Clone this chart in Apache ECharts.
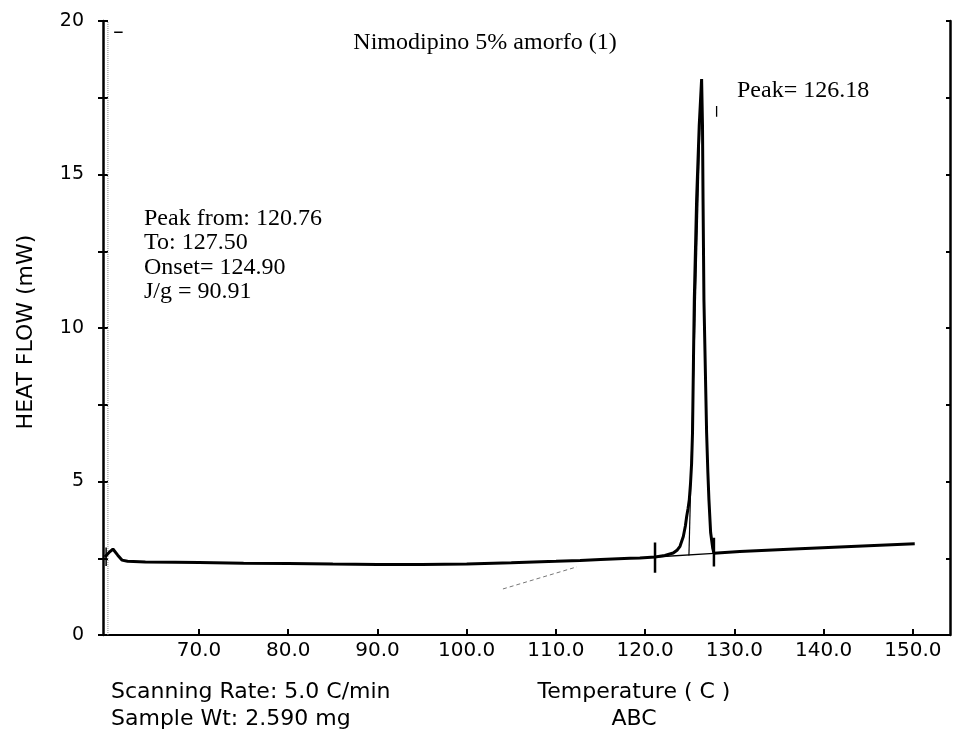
<!DOCTYPE html>
<html>
<head>
<meta charset="utf-8">
<title>Nimodipino 5% amorfo (1)</title>
<script src="https://cdn.jsdelivr.net/npm/echarts@6/dist/echarts.min.js"></script>
<style>
  html, body { margin: 0; padding: 0; background: #fff; }
  #dsc { width: 954px; height: 738px; }
</style>
</head>
<body>
<div id="dsc"></div>
<script>
// curva DSC: [temperatura, heat flow]
var curva = [
  [59.46, 2.54], [59.9, 2.68], [60.36, 2.80], [60.9, 2.60], [61.37, 2.44],
  [62.0, 2.40], [64.0, 2.38], [67.3, 2.37], [70, 2.36], [75, 2.34],
  [80, 2.33], [85, 2.31], [90, 2.30], [95, 2.30], [100, 2.31],
  [105, 2.35], [110, 2.40], [112.7, 2.43], [115, 2.46], [118.3, 2.50],
  [119.4, 2.51], [121.1, 2.54], [122.2, 2.59], [123.14, 2.67], [123.6, 2.77],
  [123.9, 2.89], [124.27, 3.21], [124.5, 3.55], [124.65, 3.87], [124.8, 4.12],
  [124.94, 4.41], [125.08, 4.95], [125.2, 5.60], [125.3, 6.59], [125.4, 8.78],
  [125.5, 10.92], [125.76, 14.18], [126.05, 16.58], [126.32, 18.11], [126.42, 16.58],
  [126.48, 14.18], [126.58, 10.92], [126.88, 6.59], [127.02, 5.3], [127.14, 4.41],
  [127.33, 3.34], [127.56, 2.84], [127.7, 2.66], [128.5, 2.68], [130.6, 2.72],
  [137.3, 2.81], [145, 2.91], [150.2, 2.97]
];
// linea base de integracion y tangente del onset
var lineaBase = [[121.1, 2.54], [127.7, 2.66]];
var tangente = [[124.9, 2.59], [126.25, 17.98]];
// marcas verticales de los limites del pico
var marcaDesde = [[121.1, 2.03], [121.1, 3.01]];
var marcaHasta = [[127.7, 2.23], [127.7, 3.17]];
var marcaInicio = [[59.6, 2.25], [59.6, 2.85]];
var marcaPico = [[128.0, 16.88], [128.0, 17.23]];
var marcaSup = [[60.5, 19.63], [61.45, 19.63]];
// trazos tenues del escaneo
var trazoTenue = [[104.06, 1.50], [112.35, 2.22]];
var punteadoIzq = [[59.8, 0], [59.8, 20]];

var ticksX = [70, 80, 90, 100, 110, 120, 130, 140, 150];
var ticksY = [0, 5, 10, 15, 20];

var chart = echarts.init(document.getElementById('dsc'));

var sans = '"DejaVu Sans", Verdana, sans-serif';
var serif = '"Liberation Serif", "Times New Roman", serif';

function seg(data, w, color, type) {
  return {
    type: 'line', data: data, showSymbol: false, silent: true,
    lineStyle: { color: color || '#000', width: w, type: type || 'solid' },
    xAxisIndex: 0, yAxisIndex: 0, z: 3
  };
}

function texto(t, x, y, font, size, align) {
  return {
    type: 'text', x: x, y: y,
    style: { text: t, fontFamily: font, fontSize: size, fill: '#000',
             align: align || 'left', verticalAlign: 'middle' }
  };
}

var ejeY = {
  type: 'value', min: 0, max: 20, interval: 2.5,
  splitLine: { show: false }
};

var option = {
  animation: false,
  backgroundColor: '#fff',
  grid: { left: 103, right: 4, top: 21, bottom: 103 },
  xAxis: [
    {
      type: 'value', min: 59.25, max: 154.15, position: 'bottom',
      splitLine: { show: false },
      axisLine: { lineStyle: { color: '#222', width: 1.5, type: [5, 2] } },
      axisTick: { customValues: ticksX, inside: true, length: 6,
                  lineStyle: { color: '#000', width: 2 } },
      axisLabel: { customValues: ticksX, margin: 6, color: '#000',
                   fontFamily: sans, fontSize: 20,
                   formatter: function (v) { return v.toFixed(1); } }
    },
    {
      type: 'value', min: 59.25, max: 154.15, position: 'top',
      splitLine: { show: false },
      axisLine: { lineStyle: { color: '#000', width: 2 } },
      axisTick: { show: false }, axisLabel: { show: false }
    }
  ],
  yAxis: [
    Object.assign({}, ejeY, {
      position: 'left',
      axisLine: { lineStyle: { color: '#000', width: 2.5 } },
      axisTick: { length: 5, lineStyle: { color: '#000', width: 2 } },
      axisLabel: { margin: 19, color: '#000', fontFamily: sans, fontSize: 19,
                   formatter: function (v) { return ticksY.indexOf(v) >= 0 ? String(v) : ''; } }
    }),
    Object.assign({}, ejeY, {
      position: 'left',
      axisLine: { show: false },
      axisTick: { inside: true, length: 5, lineStyle: { color: '#000', width: 2 } },
      axisLabel: { show: false }
    }),
    Object.assign({}, ejeY, {
      position: 'right',
      axisLine: { lineStyle: { color: '#000', width: 2.5 } },
      axisTick: { inside: true, length: 4, lineStyle: { color: '#000', width: 2 } },
      axisLabel: { show: false }
    })
  ],
  series: [
    seg(punteadoIzq, 1, '#888', 'dotted'),
    seg(trazoTenue, 1, '#777', [4, 3]),
    seg(lineaBase, 1.3),
    seg(tangente, 1.2),
    seg(curva, 3),
    seg(marcaDesde, 2.5),
    seg(marcaHasta, 2.5),
    seg(marcaInicio, 1.5),
    seg(marcaPico, 1.3),
    seg(marcaSup, 1.5)
  ],
  graphic: [
    texto('Nimodipino 5% amorfo (1)', 485, 43, serif, 24, 'center'),
    texto('Peak= 126.18', 737, 91, serif, 24),
    texto('Peak from: 120.76', 144, 219, serif, 24),
    texto('To: 127.50', 144, 243, serif, 24),
    texto('Onset= 124.90', 144, 268, serif, 24),
    texto('J/g = 90.91', 144, 292, serif, 24),
    texto('Scanning Rate: 5.0 C/min', 111, 692, sans, 22),
    texto('Sample Wt: 2.590 mg', 111, 719, sans, 22),
    texto('Temperature ( C )', 634, 692, sans, 22, 'center'),
    texto('ABC', 634, 719, sans, 22, 'center'),
    {
      type: 'text', x: 26, y: 332, rotation: Math.PI / 2,
      style: { text: 'HEAT FLOW (mW)', fontFamily: sans, fontSize: 22, fill: '#000',
               align: 'center', verticalAlign: 'middle' }
    }
  ]
};

chart.setOption(option);
</script>
</body>
</html>
